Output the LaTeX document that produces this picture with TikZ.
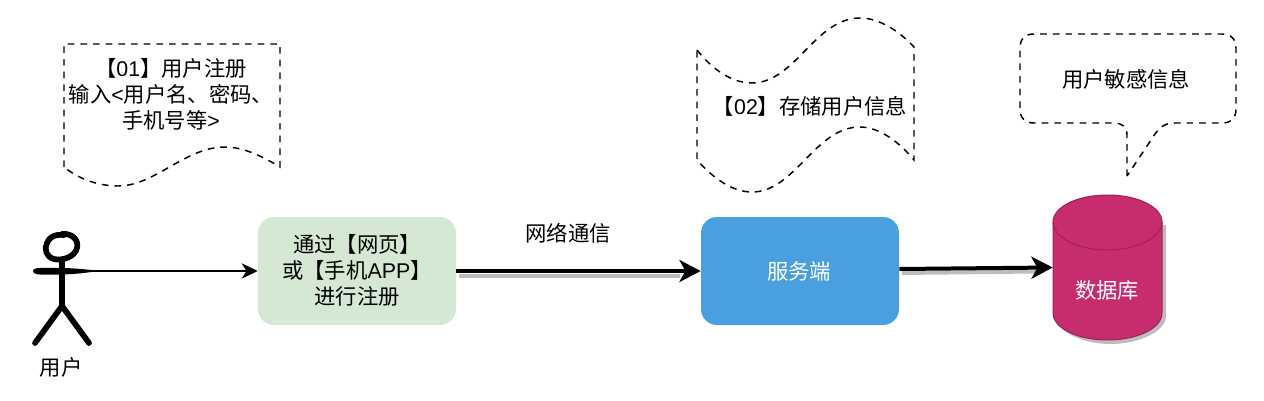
\documentclass[tikz,border=0pt]{standalone}
\usepackage{fontspec}
\setmainfont{Noto Sans CJK SC}
\newfontfamily\lat{Liberation Sans}
\usetikzlibrary{arrows.meta,shapes.geometric}
\definecolor{boxgreen}{HTML}{D5E8D4}
\definecolor{boxblue}{HTML}{4A9FDF}
\definecolor{dbfill}{HTML}{C72C6F}
\definecolor{dbline}{HTML}{A01F56}
\definecolor{shadowgray}{HTML}{BDBDBD}
\tikzset{
  x=0.75pt,y=-0.75pt,
  txt/.style={font=\fontsize{16pt}{19.5pt}\selectfont,align=center,inner sep=0pt,text=black},
  wtxt/.style={txt,text=white},
  dashline/.style={draw=black,line width=1.1pt,dash pattern=on 5pt off 4.5pt},
  procbox/.style={rounded corners=12pt,minimum width=148.5pt,minimum height=81pt,inner sep=0pt},
  thinarrow/.style={draw=black,line width=1.1pt,-{Stealth[length=12pt,width=11.5pt,inset=3.5pt]}},
  thickarrow/.style={draw=black,line width=3pt,-{Stealth[length=16pt,width=16.5pt,inset=4.5pt]}},
  arrowshadow/.style={draw=shadowgray,line width=3pt},
  stick/.style={draw=black,line width=4.3pt,line cap=round,line join=round},
}
\begin{document}
\begin{tikzpicture}
\useasboundingbox (0,0) rectangle (1264,400);
% document shape
\draw[dashline] (64,167) -- (64,44) -- (280,44) -- (280,167)
  .. controls (265,158) and (245,147) .. (225,147)
  .. controls (185,147) and (155,186) .. (118,186)
  .. controls (100,186) and (80,180) .. (64,167);
\node[txt] (doc) at (171,94) {【{\lat 01}】用户注册\\输入{\lat <}用户名、密码、\\手机号等{\lat >}};
% tape shape
\draw[dashline] (697,50) .. controls (713,70) and (732,83) .. (752,83)
  .. controls (795,83) and (815,18) .. (860,18)
  .. controls (880,18) and (900,32) .. (914,47)
  -- (914,160)
  .. controls (900,143) and (880,127) .. (860,127)
  .. controls (815,127) and (795,192) .. (752,192)
  .. controls (732,192) and (713,178) .. (697,160) -- cycle;
\node[txt] (tape) at (810,106) {【{\lat 02}】存储用户信息};
% callout
\draw[dashline] (1127,176) -- (1127,135) .. controls (1127,127) and (1122,123) .. (1114,123)
  -- (1034,123) .. controls (1025,123) and (1020,118) .. (1020,109)
  -- (1020,48) .. controls (1020,39) and (1025,34) .. (1034,34)
  -- (1222,34) .. controls (1231,34) and (1236,39) .. (1236,48)
  -- (1236,109) .. controls (1236,118) and (1231,123) .. (1222,123)
  -- (1175,123) .. controls (1165,123) and (1160,127) .. (1155,134) -- cycle;
\node[txt] (note) at (1126,79) {用户敏感信息};
% actor
\draw[stick] (62,234) .. controls (72,233) and (79,240) .. (77,248)
  .. controls (75,257) and (62,261) .. (54,259)
  .. controls (46,257) and (44,249) .. (47,243)
  .. controls (49,237) and (55,234) .. (64,235);
\draw[stick] (62,262) -- (62,306) (35,343) -- (62,306) -- (89,343);
\fill[black] (33,271) .. controls (33,269) and (36,268) .. (40,268) .. controls (55,267.5) and (75,268) .. (91,270) -- (91,272) .. controls (75,274.5) and (55,275) .. (40,274.5) .. controls (36,274.5) and (33,273) .. (33,271) -- cycle;
\coordinate (hand) at (91,271);
\node[txt] (actorlabel) at (61,367) {用户};
% process boxes
\node[procbox,fill=boxgreen] (reg) at (357,271) {};
\node[txt] at (357,270) {通过【网页】\\或【手机{\lat APP}】\\进行注册};
\node[procbox,fill=boxblue] (srv) at (800,271) {};
\node[wtxt] at (799,271) {服务端};
% database
\fill[shadowgray] (1056,225) -- (1056,316) .. controls (1056,331) and (1081,344) .. (1110.5,344) .. controls (1140,344) and (1166,331) .. (1166,316) -- (1166,225) -- cycle;
\path[draw=dbline,fill=dbfill,line width=0.75pt] (1053,222) .. controls (1053,207) and (1077,195) .. (1107.5,195) .. controls (1138,195) and (1162,207) .. (1162,222) -- (1162,313) .. controls (1162,328) and (1138,340) .. (1107.5,340) .. controls (1077,340) and (1053,328) .. (1053,313) -- cycle;
\draw[dbline,line width=0.75pt] (1053,222) .. controls (1053,237) and (1077,250) .. (1107.5,250) .. controls (1138,250) and (1162,237) .. (1162,222);
\node[minimum width=81.75pt,minimum height=108.75pt,inner sep=0pt] (db) at (1107.5,267.5) {};
\node[wtxt] at (1107,290) {数据库};
% connectors
\draw[thinarrow] (hand) -- (reg.west);
\draw[arrowshadow] (459,275.5) -- (680,275.5);
\draw[thickarrow] (reg.east) -- (srv.west);
\draw[arrowshadow] (902,273) -- (1036,271.5);
\draw[thickarrow] ([yshift=1.5pt]srv.east) -- (db.west);
\node[txt] (netlabel) at (568,233) {网络通信};
\end{tikzpicture}
\end{document}
